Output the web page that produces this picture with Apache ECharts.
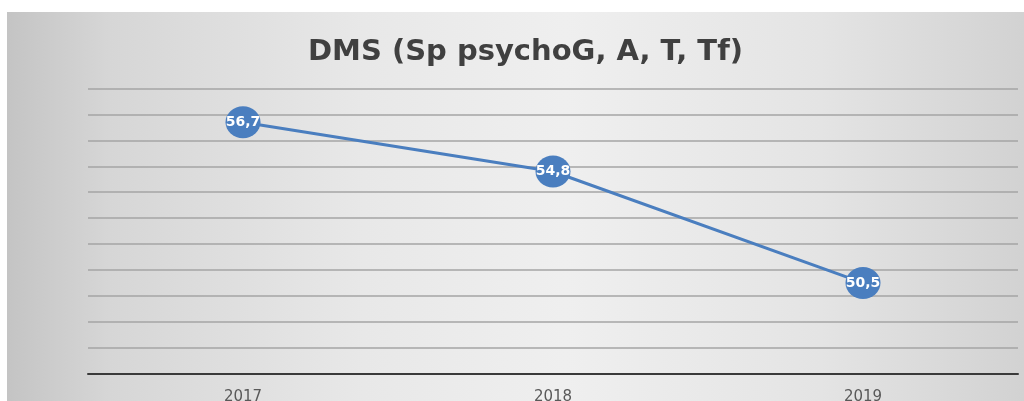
<!DOCTYPE html>
<html><head><meta charset="utf-8">
<script src="https://cdn.jsdelivr.net/npm/echarts@6/dist/echarts.min.js"></script>
<style>
html,body{margin:0;padding:0;background:#fff;width:1024px;height:401px;overflow:hidden}
#c{position:absolute;left:7px;top:12px;width:1017px;height:389px}
</style></head>
<body><div id="c"></div>
<script>
const titleText = 'DMS (Sp psychoG, A, T, Tf)';
const years = ['2017', '2018', '2019'];
const values = [56.7, 54.8, 50.5];
const yMin = 47, yMax = 58, yStep = 1;

const chart = echarts.init(document.getElementById('c'));
chart.setOption({
  backgroundColor: {
    type: 'linear', x: 0, y: 0, x2: 1, y2: 0,
    colorStops: [
      {offset: 0, color: '#c4c4c4'},
      {offset: 0.1, color: '#d6d6d6'},
      {offset: 0.35, color: '#e8e8e8'},
      {offset: 0.55, color: '#efefef'},
      {offset: 0.8, color: '#e4e4e4'},
      {offset: 1, color: '#d2d2d2'}
    ]
  },
  animation: false,
  title: {
    text: titleText, left: 296, top: 21,
    padding: 5,
    textStyle: {fontFamily: 'DejaVu Sans', fontWeight: 'bold', fontSize: 29, color: '#404040'}
  },
  grid: {left: 81, top: 76.5, width: 930, height: 285.2, containLabel: false, outerBoundsMode: 'none'},
  xAxis: {
    type: 'category', data: years, boundaryGap: true,
    axisLine: {lineStyle: {color: '#3a3a3a', width: 2}},
    axisTick: {show: false},
    axisLabel: {margin: 16, color: '#595959', fontSize: 15, fontFamily: 'DejaVu Sans'}
  },
  yAxis: {
    type: 'value', min: yMin, max: yMax, interval: yStep,
    axisLabel: {show: false}, axisLine: {show: false}, axisTick: {show: false},
    splitLine: {lineStyle: {color: '#a4a4a4', width: 1.5}}
  },
  series: [{
    type: 'line', data: values,
    lineStyle: {color: '#4a7ebf', width: 3},
    itemStyle: {color: '#4a7ebf'},
    symbol: 'circle', symbolSize: [35, 32],
    label: {
      show: true, position: 'inside', color: '#fff', fontWeight: 'bold', fontSize: 14,
      fontFamily: 'DejaVu Sans',
      formatter: p => String(p.value).replace('.', ',')
    }
  }]
});
</script></body></html>
